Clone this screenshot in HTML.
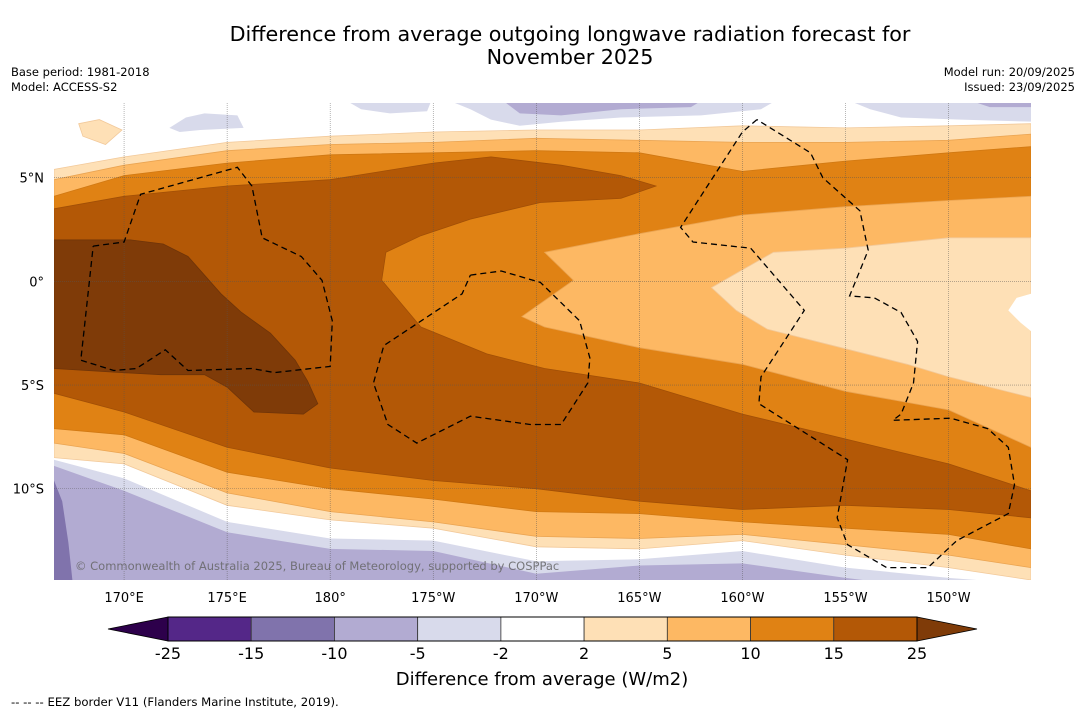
<!DOCTYPE html>
<html><head><meta charset="utf-8">
<style>
html,body{margin:0;padding:0;background:#fff;width:1085px;height:713px;overflow:hidden;font-family:"DejaVu Sans","Liberation Sans",sans-serif;}
svg{display:block}
</style></head>
<body>
<svg id="chart" width="1085" height="713" viewBox="0 0 1085 713" xmlns="http://www.w3.org/2000/svg">
<rect x="0" y="0" width="1085" height="713" fill="#ffffff"/>
<text x="570" y="41" font-size="20.7" text-anchor="middle" fill="#000">Difference from average outgoing longwave radiation forecast for</text>
<text x="570" y="64" font-size="20.7" text-anchor="middle" fill="#000">November 2025</text>
<text x="11" y="76" font-size="11.5" fill="#000">Base period: 1981-2018</text>
<text x="11" y="91" font-size="11.5" fill="#000">Model: ACCESS-S2</text>
<text x="1075" y="76" font-size="11.5" text-anchor="end" fill="#000">Model run: 20/09/2025</text>
<text x="1075" y="91" font-size="11.5" text-anchor="end" fill="#000">Issued: 23/09/2025</text>
<defs><clipPath id="mapclip"><rect x="54" y="103" width="977" height="477"/></clipPath></defs>
<g id="map" clip-path="url(#mapclip)"></g>
<g id="axes"></g>
<g id="cbar"></g>
<text x="542" y="685" font-size="18" text-anchor="middle" fill="#000">Difference from average (W/m2)</text>
<text x="11" y="706" font-size="11.7" fill="#000">--  --  -- EEZ border V11 (Flanders Marine Institute, 2019).</text>
</svg>
<script>
// ---- axis ranges ----
const LON_MIN = 166.6, LON_MAX = 214.0, LAT_MIN = -14.4, LAT_MAX = 8.6;
const MAP_X0 = 54, MAP_X1 = 1031, MAP_Y0 = 103, MAP_Y1 = 580;
function xOf(lon){ return MAP_X0 + (lon - LON_MIN) / (LON_MAX - LON_MIN) * (MAP_X1 - MAP_X0); }
function yOf(lat){ return MAP_Y0 + (LAT_MAX - lat) / (LAT_MAX - LAT_MIN) * (MAP_Y1 - MAP_Y0); }

// ---- tick data ----
const lonTicks = [170, 175, 180, 185, 190, 195, 200, 205, 210];
const lonTickLabels = ["170°E","175°E","180°","175°W","170°W","165°W","160°W","155°W","150°W"];
const latTicks = [5, 0, -5, -10];
const latTickLabels = ["5°N","0°","5°S","10°S"];

// ---- contour lines sampled on common longitudes (lat values) ----
const sampleLons = [166.6, 170, 175, 180, 185, 190, 195, 200, 205, 210, 214];
const north2  = [5.4, 6.0, 6.7, 7.0, 7.2, 7.3, 7.3, 7.5, 7.4, 7.5, 7.6];
const north5  = [4.9, 5.6, 6.3, 6.6, 6.7, 6.9, 6.8, 6.7, 6.7, 6.8, 7.1];
const north10 = [4.1, 5.1, 5.7, 6.1, 6.2, 6.3, 6.2, 5.3, 5.8, 6.2, 6.5];
const south15 = [-5.4, -6.3, -8.0, -9.0, -9.6, -10.0, -10.6, -11.0, -10.8, -11.0, -11.4];
const south10 = [-7.1, -7.4, -9.2, -10.0, -10.5, -11.1, -11.2, -11.6, -11.9, -12.2, -12.9];
const south5  = [-7.8, -8.3, -10.2, -11.1, -11.6, -12.3, -12.4, -12.2, -12.7, -13.2, -13.8];
const south2  = [-8.5, -8.8, -10.8, -11.5, -11.9, -12.8, -12.9, -12.5, -13.2, -13.8, -14.4];
const southM2 = [-8.6, -9.5, -11.6, -12.4, -12.5, -13.5, -13.4, -13.0, -13.8, -14.3, -14.6];
const southM5 = [-8.9, -10.1, -12.1, -12.9, -13.0, -14.1, -13.7, -13.6, -14.3, -14.9, -14.9];

// ---- closed contour regions [lon, lat] ----
const region15 = [[166.6,3.5],[170,4.1],[175,4.6],[180,4.9],[185,5.7],[187.8,6.0],[191.2,5.6],[194.1,5.1],[195.8,4.6],[194.1,4.0],[190.2,3.8],[186.8,3.0],[184.4,2.2],[182.7,1.4],[182.5,0.05],[184.4,-2.2],[187.6,-3.5],[190.4,-4.2],[195,-4.9],[200,-6.4],[205,-7.6],[210,-8.8],[214,-10.1]];
const hole10 = [[191.8,0.05],[190.4,1.4],[195,2.3],[200,3.2],[205,3.6],[210,3.9],[214,4.1],[214,-8.0],[210,-6.2],[205,-5.3],[200,-4.0],[195,-3.2],[190.4,-2.2],[189.3,-1.7]];
const hole5 = [[198.5,-0.3],[199.9,0.5],[201.5,1.4],[205,1.6],[210,2.1],[214,2.1],[214,-5.6],[210,-4.6],[208,-4.0],[204.8,-3.2],[201.2,-2.3],[199.7,-1.4]];
const hole2 = [[214,-0.6],[213.3,-0.8],[212.9,-1.4],[213.5,-2.0],[214,-2.4]];
const region25 = [[166.6,2.0],[170.3,2.0],[171.9,1.8],[173.1,1.2],[174.7,-0.6],[175.7,-1.5],[177.1,-2.5],[178.3,-3.8],[178.9,-4.8],[179.4,-5.9],[178.7,-6.4],[176.3,-6.3],[175,-5.1],[173.9,-4.5],[171.8,-4.5],[169.9,-4.4],[166.6,-4.2]];
const paleBlob = [[167.8,7.6],[168.8,7.8],[169.9,7.3],[169.1,6.6],[168.0,7.0]];
const lav1 = [[172.2,7.4],[173.0,7.9],[173.9,8.1],[175.5,8.0],[175.8,7.4],[173.7,7.3],[172.7,7.2]];
const lav2 = [[180.8,8.7],[184.9,8.7],[184.7,8.2],[182.9,8.1],[181.5,8.3]];
const lav3 = [[185.8,8.7],[201.6,8.7],[200.9,8.3],[198.0,8.0],[194.1,7.9],[191.2,7.7],[189.2,7.5],[187.8,7.8],[186.8,8.3]];
const lav4 = [[205.2,8.7],[214.1,8.7],[214.1,7.7],[210.6,7.8],[207.7,7.9],[206.2,8.3]];
const purp1 = [[188.4,8.7],[198.0,8.7],[197.5,8.4],[194.1,8.3],[191.2,8.0],[189.2,8.1]];
const purp2 = [[211.1,8.7],[214.1,8.7],[214.1,8.4],[212.0,8.4]];
const purpDeep = [[166.6,-9.6],[167.0,-10.6],[167.3,-12.6],[167.5,-14.5],[166.6,-14.5]];

// ---- EEZ borders [lon, lat] ----
const eez1 = [[168.5,1.7],[170,1.9],[170.8,4.2],[175.5,5.5],[176.2,4.6],[176.7,2.1],[178.6,1.2],[179.6,0.05],[180.1,-1.9],[180.0,-4.1],[177.3,-4.4],[176.2,-4.2],[173.1,-4.3],[172.0,-3.3],[170.6,-4.2],[169.5,-4.3],[167.9,-3.8],[168.5,1.7]];
const eez2 = [[186.8,0.3],[188.3,0.5],[190.2,-0.05],[192.1,-1.9],[192.6,-3.7],[192.5,-4.9],[191.2,-6.9],[189.7,-6.9],[186.8,-6.5],[184.2,-7.8],[182.8,-6.9],[182.1,-4.9],[182.6,-3.1],[186.4,-0.6],[186.8,0.3]];
const eez3 = [[200.7,7.8],[200.0,7.2],[197.0,2.6],[197.6,1.9],[200.4,1.6],[203.0,-1.4],[200.9,-4.6],[200.8,-5.9],[205.1,-8.6],[204.6,-11.4],[205.1,-12.7],[207.0,-13.8],[209.0,-13.8],[210.4,-12.5],[212.9,-11.2],[213.2,-9.8],[212.9,-8.0],[211.9,-7.1],[210.1,-6.6],[207.3,-6.7],[207.7,-6.4],[208.3,-4.9],[208.5,-2.9],[207.7,-1.5],[206.4,-0.8],[205.2,-0.7],[206.1,1.5],[205.7,3.4],[203.9,5.0],[203.3,6.2],[200.7,7.8]];

// ---- colorbar data ----
const cbLevels = [-25, -15, -10, -5, -2, 2, 5, 10, 15, 25];
const cbColors = ["#542788","#8073ac","#b2abd2","#d8daeb","#ffffff","#fee0b6","#fdb863","#e08214","#b35806"];
const cbExtendLow = "#2d004b", cbExtendHigh = "#7f3b08";

const NS = "http://www.w3.org/2000/svg";
const map = document.getElementById("map");
function ptsStr(arr){ return arr.map(p => xOf(p[0]).toFixed(1) + "," + yOf(p[1]).toFixed(1)).join(" "); }
function poly(parent, arr, fill, name, stroke){
  const p = document.createElementNS(NS, "polygon");
  p.setAttribute("points", ptsStr(arr));
  p.setAttribute("fill", fill);
  if (stroke) { p.setAttribute("stroke", stroke); p.setAttribute("stroke-width", "0.8"); }
  
  
  parent.appendChild(p);
  return p;
}
function line(arr){ return sampleLons.map((lon, i) => [lon, arr[i]]); }
function band(top, bottom){ return line(top).concat(line(bottom).reverse()); }

const bottomEdge = sampleLons.map(() => -15);
poly(map, band(southM2, bottomEdge), "#d8daeb", "contour-minus2-south");
poly(map, band(southM5, bottomEdge), "#b2abd2", "contour-minus5-south");
poly(map, purpDeep, "#8073ac", "contour-minus10-south");
poly(map, lav1, "#d8daeb", "contour-minus2-north-a");
poly(map, lav2, "#d8daeb", "contour-minus2-north-b");
poly(map, lav3, "#d8daeb", "contour-minus2-north-c");
poly(map, lav4, "#d8daeb", "contour-minus2-north-d");
poly(map, purp1, "#b2abd2", "contour-minus5-north-a");
poly(map, purp2, "#b2abd2", "contour-minus5-north-b");
poly(map, paleBlob, "#fee0b6", "contour-plus2-blob", "#f2c99a");
poly(map, band(north2, south2), "#fee0b6", "contour-plus2-band", "#f2c99a");
poly(map, band(north5, south5), "#fdb863", "contour-plus5-band", "#eaa452");
poly(map, band(north10, south10), "#e08214", "contour-plus10-band", "#d07812");
poly(map, hole10, "#fdb863", "contour-plus5-tongue", "#eaa452");
poly(map, hole5, "#fee0b6", "contour-plus2-tongue", "#f2c99a");
poly(map, hole2, "#ffffff", "contour-minus2-blob");
const r15 = region15.concat(line(south15).reverse());
poly(map, r15, "#b35806", "contour-plus15-region", "#a14f06");
poly(map, region25, "#7f3b08", "contour-plus25-region", "#6f3408");

lonTicks.forEach(lon => {
  const l = document.createElementNS(NS, "line");
  l.setAttribute("x1", xOf(lon)); l.setAttribute("x2", xOf(lon));
  l.setAttribute("y1", MAP_Y0); l.setAttribute("y2", MAP_Y1);
  l.setAttribute("stroke", "#555"); l.setAttribute("stroke-width", "0.6"); l.setAttribute("stroke-dasharray", "1,1"); l.setAttribute("opacity", "0.7");
  
  
  map.appendChild(l);
});
latTicks.forEach(lat => {
  const l = document.createElementNS(NS, "line");
  l.setAttribute("x1", MAP_X0); l.setAttribute("x2", MAP_X1);
  l.setAttribute("y1", yOf(lat)); l.setAttribute("y2", yOf(lat));
  l.setAttribute("stroke", "#555"); l.setAttribute("stroke-width", "0.6"); l.setAttribute("stroke-dasharray", "1,1"); l.setAttribute("opacity", "0.7");
  
  
  map.appendChild(l);
});
[eez1, eez2, eez3].forEach(e => {
  const p = document.createElementNS(NS, "polyline");
  p.setAttribute("points", ptsStr(e));
  p.setAttribute("fill", "none"); p.setAttribute("stroke", "#000"); p.setAttribute("stroke-width", "1.3");
  p.setAttribute("stroke-dasharray", "6,4");
  
  
  map.appendChild(p);
});
const cp = document.createElementNS(NS, "text");
cp.setAttribute("x", "75"); cp.setAttribute("y", "570"); cp.setAttribute("font-size", "11.5"); cp.setAttribute("fill", "#666"); cp.setAttribute("opacity", "0.85");
cp.textContent = "© Commonwealth of Australia 2025, Bureau of Meteorology, supported by COSPPac";


map.appendChild(cp);

const axes = document.getElementById("axes");
lonTicks.forEach((lon, i) => {
  const t = document.createElementNS(NS, "text");
  t.setAttribute("x", xOf(lon)); t.setAttribute("y", "602"); t.setAttribute("font-size", "13"); t.setAttribute("text-anchor", "middle");
  t.textContent = lonTickLabels[i];
  
  
  axes.appendChild(t);
});
latTicks.forEach((lat, i) => {
  const t = document.createElementNS(NS, "text");
  t.setAttribute("x", "44"); t.setAttribute("y", yOf(lat) + 5); t.setAttribute("font-size", "13"); t.setAttribute("text-anchor", "end");
  t.textContent = latTickLabels[i];
  
  
  axes.appendChild(t);
});

const cb = document.getElementById("cbar");
const CB_X0 = 168, CB_X1 = 917, CB_Y0 = 617, CB_Y1 = 641, CB_EXT = 60;
const cbW = (CB_X1 - CB_X0) / (cbLevels.length - 1);
function cbX(i){ return CB_X0 + i * cbW; }
const lowTri = document.createElementNS(NS, "polygon");
lowTri.setAttribute("points", `${CB_X0},${CB_Y0} ${CB_X0 - CB_EXT},${(CB_Y0 + CB_Y1) / 2} ${CB_X0},${CB_Y1}`);
lowTri.setAttribute("fill", cbExtendLow); lowTri.setAttribute("stroke", "#000"); lowTri.setAttribute("stroke-width", "0.8");


cb.appendChild(lowTri);
const highTri = document.createElementNS(NS, "polygon");
highTri.setAttribute("points", `${CB_X1},${CB_Y0} ${CB_X1 + CB_EXT},${(CB_Y0 + CB_Y1) / 2} ${CB_X1},${CB_Y1}`);
highTri.setAttribute("fill", cbExtendHigh); highTri.setAttribute("stroke", "#000"); highTri.setAttribute("stroke-width", "0.8");


cb.appendChild(highTri);
cbColors.forEach((c, i) => {
  const r = document.createElementNS(NS, "rect");
  r.setAttribute("x", cbX(i)); r.setAttribute("y", CB_Y0); r.setAttribute("width", cbW); r.setAttribute("height", CB_Y1 - CB_Y0);
  r.setAttribute("fill", c); r.setAttribute("stroke", "#333"); r.setAttribute("stroke-width", "0.8");
  
  
  cb.appendChild(r);
});
const frame = document.createElementNS(NS, "rect");
frame.setAttribute("x", CB_X0); frame.setAttribute("y", CB_Y0); frame.setAttribute("width", CB_X1 - CB_X0); frame.setAttribute("height", CB_Y1 - CB_Y0);
frame.setAttribute("fill", "none"); frame.setAttribute("stroke", "#000"); frame.setAttribute("stroke-width", "1");


cb.appendChild(frame);
cbLevels.forEach((v, i) => {
  const t = document.createElementNS(NS, "text");
  t.setAttribute("x", cbX(i)); t.setAttribute("y", "659"); t.setAttribute("font-size", "16"); t.setAttribute("text-anchor", "middle");
  t.textContent = String(v);
  
  
  cb.appendChild(t);
});
</script>
</body></html>
